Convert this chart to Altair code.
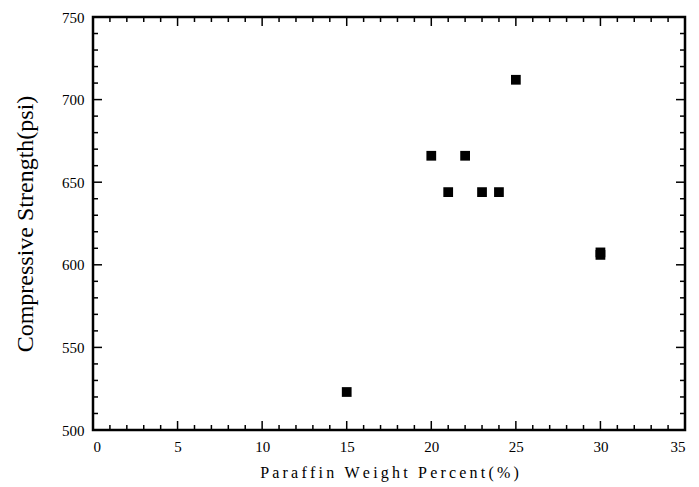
import altair as alt
import pandas as pd

paraffin = [15, 20, 21, 22, 23, 24, 25, 30, 30]
strength = [523, 666, 644, 666, 644, 644, 712, 606, 607.5]

x_major = [0, 5, 10, 15, 20, 25, 30, 35]
x_minor = [v for v in range(0, 36) if v % 5 != 0]
y_major = [500, 550, 600, 650, 700, 750]
y_minor = [v for v in range(500, 751, 10) if v % 50 != 0]

W, H = 592, 413
MAJ, MIN = 9, 5

pts = pd.DataFrame({"x": paraffin, "y": strength})

def sp(s):
    return "\u2009".join(list(s))

xscale = alt.Scale(domain=[0, 35], nice=False, zero=False)
yscale = alt.Scale(domain=[500, 750], nice=False, zero=False)

font = "Times New Roman, Liberation Serif, serif"

points = alt.Chart(pts).mark_square(size=95, color="black", opacity=1).encode(
    x=alt.X("x:Q", scale=xscale,
            axis=alt.Axis(title=sp("Paraffin Weight Percent(%)"), values=x_major,
                          ticks=False, domain=False, grid=False, labelPadding=9,
                          labelFontSize=15, titleFontSize=16, titlePadding=10,
                          labelFont=font, titleFont=font, titleFontWeight="normal",
                          labelColor="black", titleColor="black")),
    y=alt.Y("y:Q", scale=yscale,
            axis=alt.Axis(title="Compressive Strength(psi)", values=y_major,
                          ticks=False, domain=False, grid=False, labelPadding=9,
                          labelFontSize=15, titleFontSize=24, titlePadding=24,
                          labelFont=font, titleFont=font, titleFontWeight="normal",
                          labelColor="black", titleColor="black")),
)

def xticks(vals, length):
    d = pd.DataFrame({"x": vals})
    bot = alt.Chart(d).mark_rule(color="black", strokeWidth=1.5).encode(
        x=alt.X("x:Q", scale=xscale), y=alt.value(H), y2=alt.value(H - length))
    top = alt.Chart(d).mark_rule(color="black", strokeWidth=1.5).encode(
        x=alt.X("x:Q", scale=xscale), y=alt.value(0), y2=alt.value(length))
    return [bot, top]

def yticks(vals, length):
    d = pd.DataFrame({"y": vals})
    left = alt.Chart(d).mark_rule(color="black", strokeWidth=1.5).encode(
        y=alt.Y("y:Q", scale=yscale), x=alt.value(0), x2=alt.value(length))
    right = alt.Chart(d).mark_rule(color="black", strokeWidth=1.5).encode(
        y=alt.Y("y:Q", scale=yscale), x=alt.value(W), x2=alt.value(W - length))
    return [left, right]

layers = xticks(x_major, MAJ) + xticks(x_minor, MIN) + yticks(y_major, MAJ) + yticks(y_minor, MIN) + [points]

chart = alt.layer(*layers).properties(
    width=W, height=H,
    autosize=alt.AutoSizeParams(type="none"),
    padding={"left": 85, "top": 9, "right": 5, "bottom": 57},
    background="white",
).configure_view(stroke="black", strokeWidth=2.5)

chart.save("out.html", embed_options={"renderer": "svg", "actions": False})
